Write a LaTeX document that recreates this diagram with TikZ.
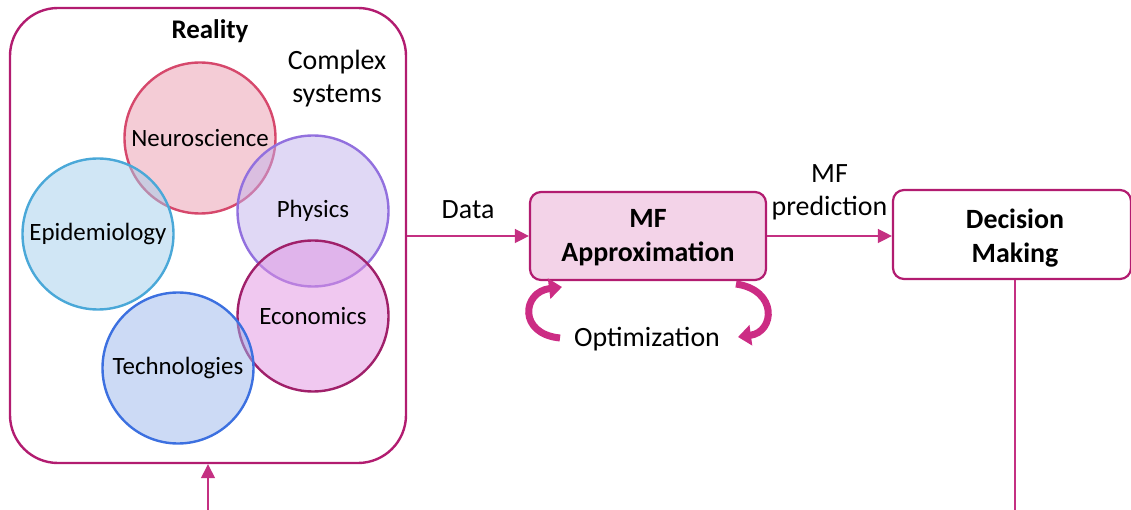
\documentclass[tikz,border=0pt]{standalone}
\usepackage{fontspec}
\setmainfont{Carlito}
\usetikzlibrary{arrows.meta}
\definecolor{frame}{RGB}{178,28,112}
\definecolor{link}{RGB}{196,48,130}
\definecolor{boxfill}{RGB}{243,211,232}
\definecolor{loopc}{RGB}{204,44,132}
\definecolor{neuroF}{RGB}{233,153,173}\definecolor{neuroD}{RGB}{214,72,108}
\definecolor{physF}{RGB}{193,177,235}\definecolor{physD}{RGB}{146,112,222}
\definecolor{epiF}{RGB}{161,205,235}\definecolor{epiD}{RGB}{74,168,216}
\definecolor{econF}{RGB}{225,145,225}\definecolor{econD}{RGB}{160,32,106}
\definecolor{techF}{RGB}{153,181,235}\definecolor{techD}{RGB}{60,112,224}
\tikzset{
  field/.style 2 args={circle, minimum size=151bp, inner sep=0pt, line width=2.4bp,
    draw=#2, fill=#1, fill opacity=0.5, text opacity=1,
    font=\fontsize{25}{28}\selectfont},
  panel/.style={draw=frame, line width=2.2bp, rounded corners=11bp, inner sep=0pt},
  paneltext/.style={align=center, font=\fontsize{28}{34}\selectfont\bfseries},
  flow/.style={draw=link, line width=1.4bp, -{Triangle[length=14bp,width=14bp]}},
  plain/.style={align=center, font=\fontsize{28}{33}\selectfont},
  loop/.style={draw=loopc, line width=7bp, -{Triangle[length=13bp,width=20bp]}},
}
\begin{document}
\begin{tikzpicture}[x=1bp,y=-1bp]
\useasboundingbox (0,0) rectangle (1131,510);

% the reality frame
\node[draw=frame, line width=2.4bp, rounded corners=48bp, minimum width=396bp,
      minimum height=455bp, inner sep=0pt] (reality) at (208,235.5) {};
\node[font=\fontsize{27}{33}\selectfont\bfseries] (realitylbl) at (210,31) {Reality};
\node[plain] (complex) at (337,79) {Complex\\systems};

% domains of complex systems
\node[field={neuroF}{neuroD}] (neuro) at (200,138) {Neuroscience};
\node[field={epiF}{epiD}] (epi) at (98,234) {Epidemiology};
\node[field={physF}{physD}] (phys) at (313,211) {Physics};
\node[field={econF}{econD}] (econ) at (313,316) {Economics};
\node[field={techF}{techD}] (tech) at (178,368) {Technologies};

% model and decision boxes
\node[panel, fill=boxfill, minimum width=236bp, minimum height=88bp] (mf) at (648,236) {};
\node[paneltext] (mftext) at (648,238) {MF\\Approximation};
\node[panel, fill=white, minimum width=238bp, minimum height=89bp] (dec) at (1012,234.5) {};
\node[paneltext] (dectext) at (1015,238) {Decision\\Making};

% connectors
\draw[flow] (reality.east |- mf.west) -- node[plain, above=13bp] (datalbl) {Data} (mf.west);
\draw[flow] (mf.east) -- node[plain, above=12bp] (predlbl) {MF\\prediction} (dec.west |- mf.east);
\coordinate (decfoot) at (1015,512);
\coordinate (realfoot) at (208,512);
\draw[draw=link, line width=1.4bp] (dec.south -| decfoot) -- (decfoot);
\draw[flow] (realfoot) -- (reality.south -| realfoot);

% optimization loop
\node[plain] (opt) at (647,339) {Optimization};
\draw[loop] (560,338) .. controls (518,334) and (522,292) .. (562,287);
\draw[loop] (736,284) .. controls (778,290) and (775,332) .. (738,337);
\end{tikzpicture}
\end{document}
